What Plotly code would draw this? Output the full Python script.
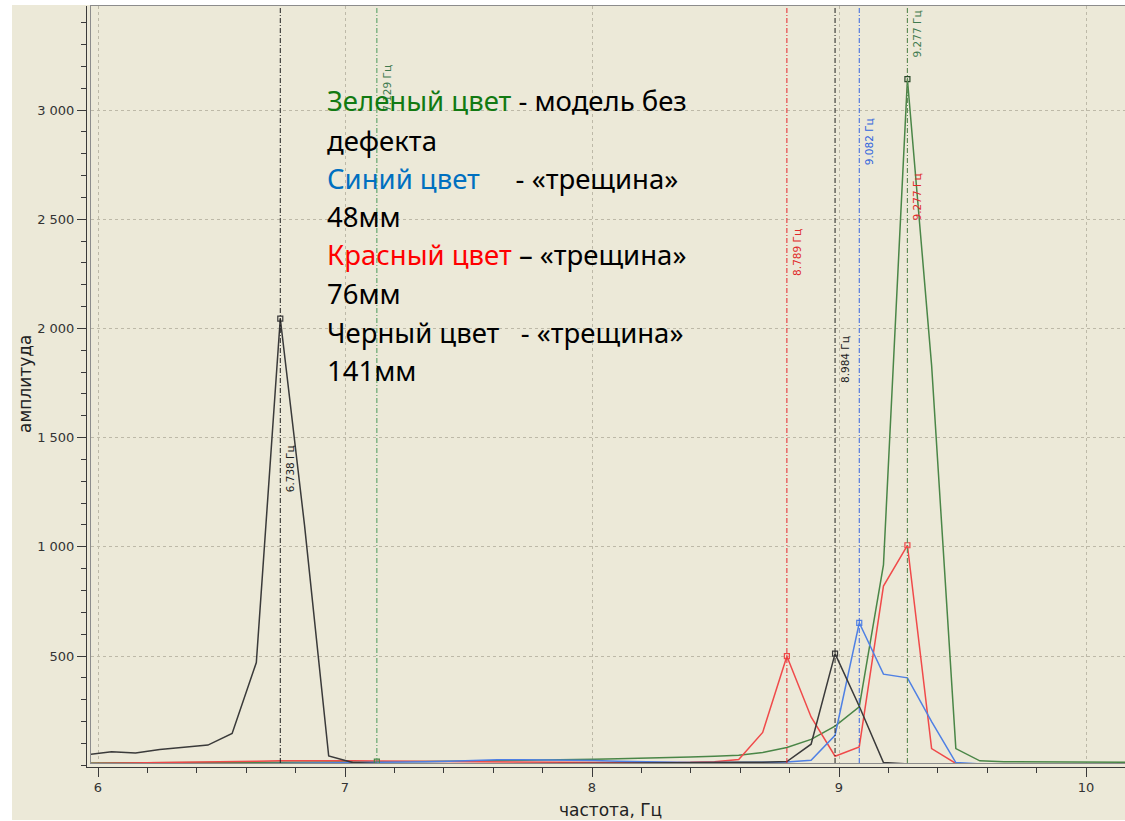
import plotly.graph_objects as go

# ---------------- data ----------------
freq = [5.957, 6.055, 6.152, 6.250, 6.348, 6.445, 6.543, 6.641, 6.738, 6.836,
        6.934, 7.031, 7.129, 7.227, 7.324, 7.422, 7.520, 7.617, 7.715, 7.813,
        7.910, 8.008, 8.105, 8.203, 8.301, 8.398, 8.496, 8.594, 8.691, 8.789,
        8.887, 8.984, 9.082, 9.180, 9.277, 9.375, 9.473, 9.570, 9.668, 9.766,
        9.863, 9.961, 10.059, 10.156, 10.254]

amp_green = [10, 10, 11, 11, 12, 12, 13, 13, 14, 14,
             15, 15, 16, 16, 17, 18, 19, 20, 22, 23,
             25, 27, 29, 31, 34, 37, 41, 46, 58, 81,
             118, 179, 267, 917, 3141, 1830, 76, 20, 16, 15,
             14, 14, 13, 13, 13]

amp_red = [8, 9, 10, 12, 13, 14, 16, 18, 20, 21,
           21, 20, 19, 18, 17, 16, 15, 14, 14, 13,
           13, 13, 12, 12, 12, 13, 16, 26, 150, 499,
           221, 41, 84, 820, 1007, 76, 8, 4, 3, 3,
           3, 3, 3, 3, 3]

amp_blue = [3, 3, 4, 4, 5, 5, 6, 7, 8, 8,
            9, 10, 12, 14, 16, 18, 22, 25, 25, 25,
            24, 22, 18, 15, 13, 12, 12, 13, 14, 15,
            23, 137, 652, 417, 400, 200, 12, 6, 4, 3,
            3, 3, 3, 3, 3]

amp_black = [48, 62, 56, 72, 82, 92, 145, 470, 2045, 1100,
             42, 12, 8, 6, 6, 6, 6, 7, 7, 8,
             8, 9, 9, 10, 10, 11, 12, 13, 14, 17,
             96, 511, 270, 12, 6, 5, 4, 4, 3, 3,
             3, 3, 3, 3, 3]

# marked peak frequencies (series, frequency)
peaks = [("black", 6.738), ("green", 7.129), ("red", 8.789), ("black", 8.984),
         ("blue", 9.082), ("red", 9.277), ("green", 9.277)]

marker_labels = ["6.738 Гц", "7.129 Гц", "8.789 Гц", "8.984 Гц",
                 "9.082 Гц", "9.277 Гц", "9.277 Гц"]

x_ticks = [6, 7, 8, 9, 10]
y_ticks = [500, 1000, 1500, 2000, 2500, 3000]

x_title = "частота, Гц"
y_title = "амплитуда"

legend_lines = [
    '<span style="color:#127a12">Зеленый цвет</span> - модель без',
    'дефекта',
    '<span style="color:#0070c0">Синий цвет</span>' + '\u00a0' * 5 + '- «трещина»',
    '48мм',
    '<span style="color:#ff0000">Красный цвет</span> – «трещина»',
    '76мм',
    'Черный цвет' + '\u00a0' * 3 + '- «трещина»',
    '141мм',
]

# ---------------- styles / geometry ----------------
W, H = 1125, 821
BG = "#ECE9D8"
series = {
    "green": (amp_green, "#4a8647"),
    "red": (amp_red, "#f04a4a"),
    "blue": (amp_blue, "#4f80e4"),
    "black": (amp_black, "#3a3a3a"),
}
vline_colors = {"black": "#1e1e1e", "green": "#4c9a5c", "red": "#e6222c", "blue": "#3464e0"}
label_colors = {"black": "#222222", "green": "#3f7a4f", "red": "#e02a2a", "blue": "#3366dd"}
label_ypx = [469, 88, 252, 360, 142, 197, 34]   # label centres in pixels
legend_ypx = [101, 140, 178, 216, 255, 293, 332, 370]


def fx(px):
    return 6 + (px - 98) / 247.0


def famp(py):
    return (765.2 - py) / 0.2184


def py2paper(py):
    return 1 - py / H


fig = go.Figure()

for name in ["green", "red", "blue", "black"]:
    vals, col = series[name]
    fig.add_trace(go.Scatter(x=freq, y=vals, mode="lines",
                             line=dict(color=col, width=1.5),
                             showlegend=False, hoverinfo="skip"))

# peak markers
for name, f in peaks:
    vals, col = series[name]
    i = min(range(len(freq)), key=lambda k: abs(freq[k] - f))
    mcol = "#2a4a2a" if (name == "green" and vals[i] > 1000) else col
    fig.add_trace(go.Scatter(x=[freq[i]], y=[vals[i]], mode="markers",
                             marker=dict(symbol="square-open", size=5,
                                         color=mcol, line=dict(width=1.2)),
                             showlegend=False, hoverinfo="skip"))

# dummy trace for the ticked axes
fig.add_trace(go.Scatter(x=[6], y=[0], xaxis="x2", yaxis="y2", mode="markers",
                         marker=dict(opacity=0), showlegend=False, hoverinfo="skip"))

shapes = [dict(type="rect", xref="paper", yref="paper", x0=12 / W, x1=1,
               y0=py2paper(820), y1=py2paper(5), fillcolor=BG, line=dict(width=0),
               layer="below")]
annotations = []

for (name, f), lab, ly in zip(peaks, marker_labels, label_ypx):
    shapes.append(dict(type="line", xref="x", yref="paper", x0=f, x1=f,
                       y0=py2paper(763), y1=py2paper(6),
                       line=dict(color=vline_colors[name], width=1, dash="5px,2px,1px,2px"),
                       layer="above"))
    annotations.append(dict(x=f, xref="x", y=py2paper(ly), yref="paper",
                            text=lab, textangle=-90, showarrow=False, xshift=10,
                            xanchor="center", yanchor="middle",
                            font=dict(family="DejaVu Sans", size=10.5,
                                      color=label_colors[name])))

for txt, ly in zip(legend_lines, legend_ypx):
    annotations.append(dict(x=325 / W, xref="paper", y=py2paper(ly), yref="paper",
                            text=txt, showarrow=False, xanchor="left", yanchor="middle",
                            font=dict(family="Noto Sans", size=27.5, color="#000000")))

annotations.append(dict(x=610 / W, xref="paper", y=py2paper(810), yref="paper",
                        text=x_title, showarrow=False, xanchor="center", yanchor="middle",
                        font=dict(family="DejaVu Sans", size=17, color="#222222")))
annotations.append(dict(x=25 / W, xref="paper", y=py2paper(384), yref="paper",
                        text=y_title, showarrow=False, textangle=-90,
                        xanchor="center", yanchor="middle",
                        font=dict(family="DejaVu Sans", size=17, color="#222222")))

grid_col = "#bdb9a8"
fig.update_layout(
    width=W, height=H,
    margin=dict(l=0, r=0, t=0, b=0),
    paper_bgcolor="#ffffff",
    plot_bgcolor="rgba(0,0,0,0)",
    separators=". ",
    shapes=shapes,
    annotations=annotations,
    xaxis=dict(domain=[91 / W, 1], range=[fx(91), fx(W)], anchor="y",
               showgrid=True, gridcolor=grid_col, griddash="dot", gridwidth=1,
               tickvals=x_ticks, showticklabels=False, ticks="",
               showline=True, linecolor="#8c8c8c", linewidth=1, mirror=True,
               zeroline=False, fixedrange=True),
    yaxis=dict(domain=[py2paper(763), py2paper(6)], range=[famp(763), famp(6)], anchor="x",
               showgrid=True, gridcolor=grid_col, griddash="dot", gridwidth=1,
               tickvals=y_ticks, showticklabels=False, ticks="",
               showline=True, linecolor="#8c8c8c", linewidth=1, mirror=True,
               zeroline=False, fixedrange=True),
    xaxis2=dict(domain=[87 / W, 1], range=[fx(87), fx(W)], anchor="y2",
                showgrid=False, zeroline=False, tickvals=x_ticks,
                ticks="outside", ticklen=9, tickcolor="#3a3a3a", tickwidth=1,
                minor=dict(dtick=0.2, tick0=0, ticks="outside", ticklen=5,
                           tickcolor="#3a3a3a", showgrid=False),
                showline=True, linecolor="#3a3a3a", linewidth=1,
                tickfont=dict(family="DejaVu Sans", size=13, color="#333333")),
    yaxis2=dict(domain=[py2paper(766.5), py2paper(6)], range=[famp(766.5), famp(6)],
                anchor="x2", showgrid=False, zeroline=False, tickvals=y_ticks,
                tickformat=",d",
                ticks="outside", ticklen=9, tickcolor="#3a3a3a", tickwidth=1,
                minor=dict(dtick=100, tick0=0, ticks="outside", ticklen=5,
                           tickcolor="#3a3a3a", showgrid=False),
                showline=True, linecolor="#3a3a3a", linewidth=1,
                tickfont=dict(family="DejaVu Sans", size=13, color="#333333")),
)

fig.write_html("out.html")
